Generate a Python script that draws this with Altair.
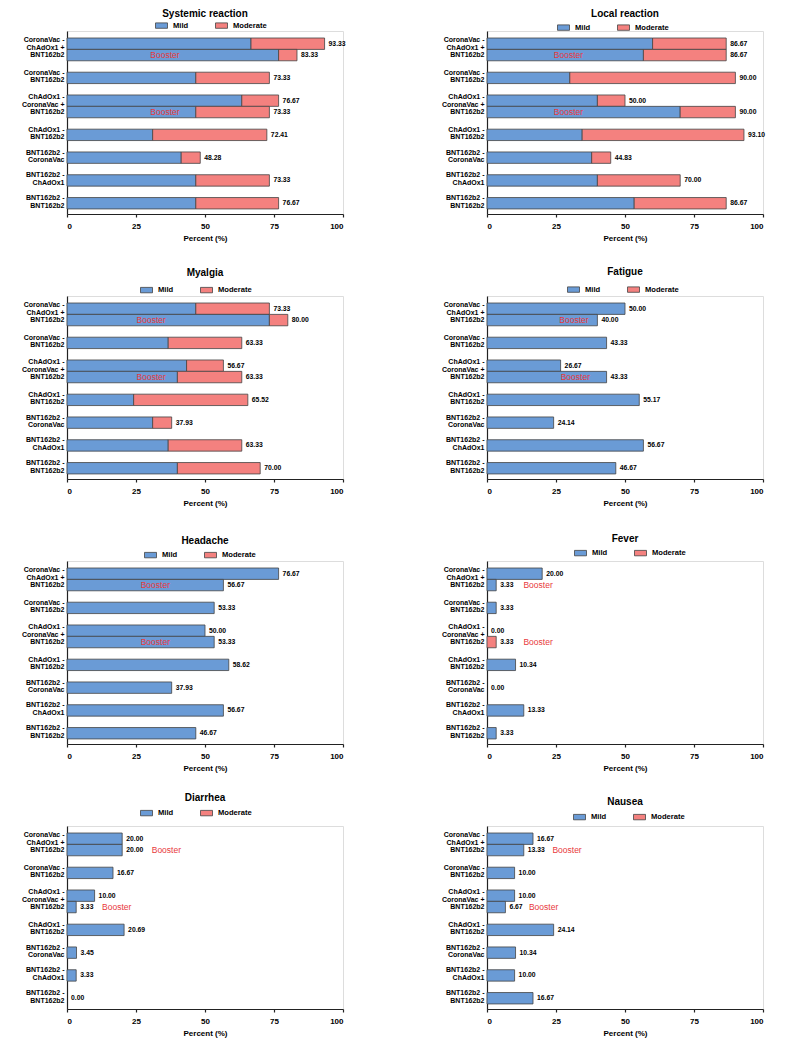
import altair as alt
import pandas as pd

FONT = "Liberation Sans"

GROUPS = [
    "CoronaVac -|ChAdOx1 +|BNT162b2",
    "CoronaVac -|BNT162b2",
    "ChAdOx1 -|CoronaVac +|BNT162b2",
    "ChAdOx1 -|BNT162b2",
    "BNT162b2 -|CoronaVac",
    "BNT162b2 -|ChAdOx1",
    "BNT162b2 -|BNT162b2",
]
# nine bars, top to bottom: which group each belongs to, and whether it is the booster bar
BAR_GROUP = [0, 0, 1, 2, 2, 3, 4, 5, 6]
BAR_BOOSTER = [False, True, False, False, True, False, False, False, False]
# vertical order of rows on the band scale (bar index, or None for an empty spacer row)
ROW_ORDER = [0, 1, None, 2, None, 3, 4, None, 5, None, 6, None, 7, None, 8]

SEVERITIES = ["Mild", "Moderate"]
SEV_COLORS = ["#6A9BD6", "#F4817F"]
X_TICKS = [0, 25, 50, 75, 100]

TITLES = ["Systemic reaction", "Local reaction", "Myalgia", "Fatigue",
          "Headache", "Fever", "Diarrhea", "Nausea"]

systemic_mild = [66.67, 76.67, 46.67, 63.33, 46.67, 31.03, 41.38, 46.67, 46.67]
systemic_total = [93.33, 83.33, 73.33, 76.67, 73.33, 72.41, 48.28, 73.33, 76.67]

local_mild = [60.00, 56.67, 30.00, 40.00, 70.00, 34.48, 37.93, 40.00, 53.33]
local_total = [86.67, 86.67, 90.00, 50.00, 90.00, 93.10, 44.83, 70.00, 86.67]

myalgia_mild = [46.67, 73.33, 36.67, 43.33, 40.00, 24.14, 31.03, 36.67, 40.00]
myalgia_total = [73.33, 80.00, 63.33, 56.67, 63.33, 65.52, 37.93, 63.33, 70.00]

fatigue_mild = [50.00, 40.00, 43.33, 26.67, 43.33, 55.17, 24.14, 56.67, 46.67]
fatigue_total = [50.00, 40.00, 43.33, 26.67, 43.33, 55.17, 24.14, 56.67, 46.67]

headache_mild = [76.67, 56.67, 53.33, 50.00, 53.33, 58.62, 37.93, 56.67, 46.67]
headache_total = [76.67, 56.67, 53.33, 50.00, 53.33, 58.62, 37.93, 56.67, 46.67]

fever_mild = [20.00, 3.33, 3.33, 0.00, 0.00, 10.34, 0.00, 13.33, 3.33]
fever_total = [20.00, 3.33, 3.33, 0.00, 3.33, 10.34, 0.00, 13.33, 3.33]

diarrhea_mild = [20.00, 20.00, 16.67, 10.00, 3.33, 20.69, 3.45, 3.33, 0.00]
diarrhea_total = [20.00, 20.00, 16.67, 10.00, 3.33, 20.69, 3.45, 3.33, 0.00]

nausea_mild = [16.67, 13.33, 10.00, 10.00, 6.67, 24.14, 10.34, 10.00, 16.67]
nausea_total = [16.67, 13.33, 10.00, 10.00, 6.67, 24.14, 10.34, 10.00, 16.67]

# "Booster" annotation anchor (in percent units) for the two booster bars
BOOSTER_X = [(35.5, 35.5), (29.5, 29.5), (30.5, 30.5), (31.5, 32.0),
             (32.0, 32.0), (18.5, 18.5), (36.0, 18.0), (29.0, 20.5)]

# layout (pixels): legend position and title offset per panel
LEGEND_X = [88, 70, 73, 80, 77, 87, 73, 86]
LEGEND_Y = [-12, -10, -12.5, -13, -12.5, -14.5, -19.5, -15.5]
TITLE_OFFSET = [0, 2, 6, 6, 3, 3, 4, 4]

PW, PH = 276, 183


def bar_key(i):
    # the group label is carried on the first bar of each group only
    return f"{i}:" if BAR_BOOSTER[i] else f"{i}:{GROUPS[BAR_GROUP[i]]}"


ROW_KEYS = [bar_key(r) if r is not None else f"gap{j}:" for j, r in enumerate(ROW_ORDER)]


def panel(k, mild, total):
    seg, lab, boo = [], [], []
    bx = list(BOOSTER_X[k])
    for i in range(9):
        key = bar_key(i)
        if mild[i] > 0:
            seg.append(dict(row=key, severity="Mild", start=0.0, end=mild[i]))
        if total[i] - mild[i] > 0.001:
            seg.append(dict(row=key, severity="Moderate", start=mild[i], end=total[i]))
        lab.append(dict(row=key, total=total[i], text=f"{total[i]:.2f}"))
        if BAR_BOOSTER[i]:
            boo.append(dict(row=key, x=bx.pop(0)))
    seg_df = pd.DataFrame(seg)
    lab_df = pd.DataFrame(lab)
    boo_df = pd.DataFrame(boo)

    y_enc = alt.Y("row:N", sort=ROW_KEYS,
                  scale=alt.Scale(domain=ROW_KEYS, paddingInner=0, paddingOuter=0.53, align=0.58),
                  axis=alt.Axis(title=None,
                                labelExpr="split(slice(datum.label, indexof(datum.label, ':') + 1), '|')",
                                labelFont=FONT, labelFontSize=7, labelFontWeight="bold",
                                labelColor="black", labelLineHeight=7.6, ticks=False,
                                labelOverlap=False,
                                labelOffset={"condition": {"test": "length(split(datum.value, '|')) > 2",
                                                           "value": -3.4},
                                             "value": -5.0},
                                labelPadding=3, domainColor="#222", domainWidth=1.2))
    x_scale = alt.Scale(domain=[0, 100], nice=False)
    x_axis = alt.Axis(values=X_TICKS, title="Percent (%)", grid=False,
                      labelFont=FONT, labelFontSize=8, labelFontWeight="bold",
                      labelColor="black", tickSize=3, tickColor="#222", tickWidth=1.2,
                      domainColor="#222", domainWidth=1.2, labelPadding=5,
                      titleFont=FONT, titleFontSize=8, titleFontWeight="bold",
                      titleColor="black", titlePadding=4)
    color_enc = alt.Color("severity:N",
                          scale=alt.Scale(domain=SEVERITIES, range=SEV_COLORS),
                          legend=alt.Legend(title=None, orient="none",
                                            legendX=LEGEND_X[k], legendY=LEGEND_Y[k],
                                            direction="horizontal",
                                            symbolType="M-1,-0.45L1,-0.45L1,0.45L-1,0.45Z",
                                            symbolSize=144, symbolStrokeColor="#444",
                                            symbolStrokeWidth=0.8, symbolOpacity=1,
                                            labelFont=FONT, labelFontSize=7.6,
                                            labelFontWeight="bold", labelColor="black",
                                            labelOffset=5, columnPadding=24))

    bars = alt.Chart(seg_df).mark_bar(stroke="#444", strokeWidth=0.8).encode(
        y=y_enc, x=alt.X("start:Q", scale=x_scale, axis=x_axis), x2="end:Q", color=color_enc)

    values = alt.Chart(lab_df).mark_text(
        align="left", baseline="middle", dx=4, font=FONT, fontSize=6.8,
        fontWeight="bold", color="black").encode(
        y=y_enc, x=alt.X("total:Q", scale=x_scale, axis=x_axis), text="text:N")

    boo_text = alt.Chart(boo_df).mark_text(align="center", baseline="middle", font=FONT,
                                           fontSize=8.5, color="#E8383B").encode(
        y=y_enc, x=alt.X("x:Q", scale=x_scale, axis=x_axis), text=alt.value("Booster"))

    return alt.layer(bars, values, boo_text).properties(
        width=PW, height=PH,
        title=alt.TitleParams(text=TITLES[k], font=FONT, fontSize=10, fontWeight="bold",
                              color="black", anchor="middle", offset=TITLE_OFFSET[k]))


data = [(systemic_mild, systemic_total), (local_mild, local_total),
        (myalgia_mild, myalgia_total), (fatigue_mild, fatigue_total),
        (headache_mild, headache_total), (fever_mild, fever_total),
        (diarrhea_mild, diarrhea_total), (nausea_mild, nausea_total)]
panels = [panel(k, m, t) for k, (m, t) in enumerate(data)]

chart = alt.concat(*panels, columns=2, spacing={"row": 82, "column": 144}, bounds="flush")
chart = chart.resolve_scale(color="independent").resolve_legend(color="independent")
chart = chart.properties(padding={"left": 12, "top": 0, "right": 5, "bottom": 5}).configure_view(
    stroke=None).configure(background="white")

chart.save("out.html", embed_options={"renderer": "svg", "actions": False})
